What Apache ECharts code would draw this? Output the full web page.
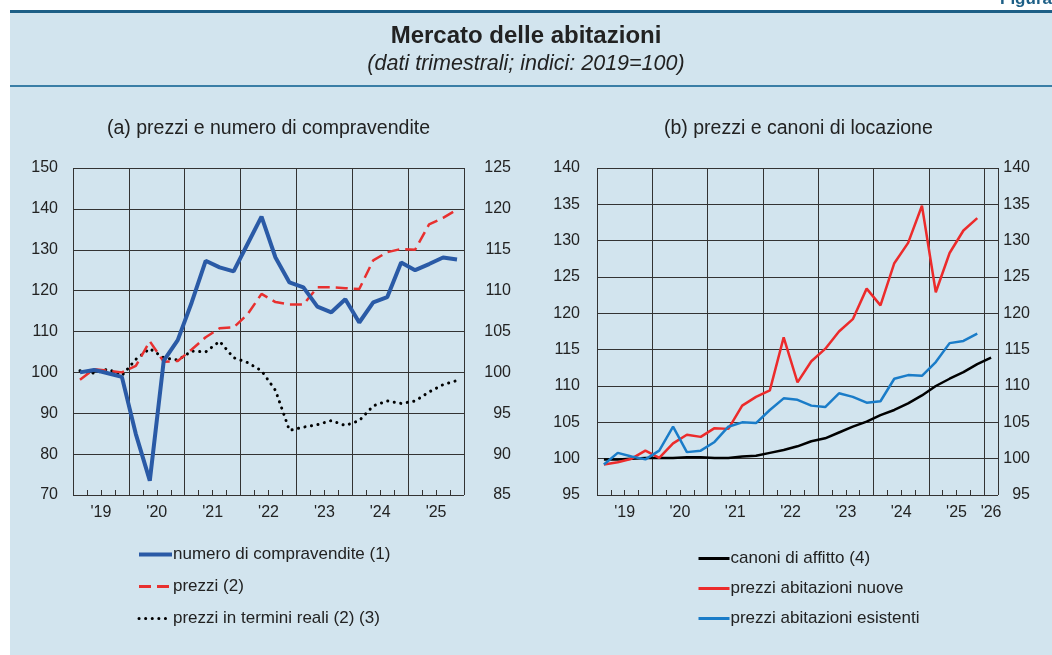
<!DOCTYPE html>
<html>
<head>
<meta charset="utf-8">
<script src="https://cdn.jsdelivr.net/npm/echarts@6/dist/echarts.min.js"></script>
<style>
  html, body { margin: 0; padding: 0; background: #fff; }
  #chart { width: 1052px; height: 655px; }
</style>
</head>
<body>
<div id="chart"></div>
<script>
// etichette anni (centrate sull'anno)
const yearLabelsA = ["'19", "'20", "'21", "'22", "'23", "'24", "'25"];
const yearLabelsB = ["'19", "'20", "'21", "'22", "'23", "'24", "'25", "'26"];

// (a) dati trimestrali 2019T1-2025T4
const compravendite = [100.0, 100.6, 99.8, 98.9, 84.9, 73.5, 102.9, 107.9, 117.1, 127.3, 125.7, 124.7, 131.4, 138.1,
  128.1, 122.0, 120.8, 116.1, 114.7, 117.9, 112.2, 117.1, 118.4, 126.9, 125.0, 126.5, 128.1, 127.6];
const prezzi = [99.1, 100.4, 100.2, 100.0, 100.8, 103.8, 101.3, 101.4, 102.8, 104.3, 105.4, 105.5, 107.1, 109.6,
  108.6, 108.3, 108.3, 110.4, 110.4, 110.3, 110.2, 113.7, 114.7, 115.1, 115.0, 118.1, 118.9, 119.9];
const prezziReali = [100.2, 99.9, 100.4, 99.6, 101.6, 102.9, 101.8, 101.5, 102.6, 102.5, 103.8, 101.8, 101.2, 100.2,
  97.8, 92.9, 93.3, 93.6, 94.1, 93.5, 94.1, 95.9, 96.5, 96.2, 96.5, 97.6, 98.5, 99.0];

// (b) dati trimestrali 2019T1-2026T1
const canoni = [99.9, 99.9, 100.0, 100.1, 100.1, 100.1, 100.2, 100.2, 100.1, 100.1, 100.3, 100.4, 100.8, 101.2,
  101.7, 102.4, 102.8, 103.6, 104.4, 105.1, 106.0, 106.7, 107.6, 108.7, 110.0, 111.0, 111.9, 113.0, 113.9];
const nuove = [99.2, 99.5, 100.0, 101.1, 100.1, 102.1, 103.3, 103.0, 104.2, 104.1, 107.3, 108.5, 109.4, 116.7,
  110.5, 113.4, 115.1, 117.5, 119.2, 123.4, 121.1, 126.9, 129.7, 134.8, 122.9, 128.3, 131.4, 133.1];
const esistenti = [99.2, 100.8, 100.3, 99.9, 101.1, 104.4, 100.9, 101.1, 102.3, 104.4, 105.0, 104.9, 106.7, 108.3,
  108.1, 107.3, 107.1, 109.0, 108.5, 107.7, 107.9, 111.0, 111.5, 111.4, 113.3, 115.9, 116.2, 117.2];

const font = "'Liberation Sans', Arial, sans-serif";
const ink = "#222";
const gridLine = { show: true, lineStyle: { color: "#333", width: 1 } };

// punti al centro del trimestre
const toPts = (arr) => arr.map((v, i) => [i + 0.5, v]);

// etichetta anno al centro di ogni anno; l'ultimo '26 al centro del trimestre
function labelFmt(labels, nQuarters) {
  return (v) => {
    if (v % 4 === 2 && (v - 2) / 4 < labels.length && v + 2 <= nQuarters) return labels[(v - 2) / 4];
    if (v === nQuarters - 0.5 && labels.length * 4 > nQuarters) return labels[labels.length - 1];
    return "";
  };
}

function xAxes(gridIndex, n, labels) {
  return [
    { // dati + tacche trimestrali
      type: "value", gridIndex: gridIndex, min: 0, max: n, interval: 1,
      axisLine: { show: false },
      axisTick: { show: true, inside: true, length: 5, lineStyle: { color: "#333" } },
      axisLabel: { show: false }, splitLine: { show: false }
    },
    { // griglia annuale
      type: "value", gridIndex: gridIndex, min: 0, max: n, interval: 4,
      axisLine: { show: false }, axisTick: { show: false }, axisLabel: { show: false },
      splitLine: gridLine
    },
    { // etichette anni
      type: "value", gridIndex: gridIndex, min: 0, max: n, interval: 0.5, position: "bottom",
      axisLine: { show: false }, axisTick: { show: false }, splitLine: { show: false },
      axisLabel: { show: true, margin: 10, color: ink, fontSize: 16, fontFamily: font,
        showMinLabel: true, showMaxLabel: true, hideOverlap: false, formatter: labelFmt(labels, n) }
    }
  ];
}

const chart = echarts.init(document.getElementById("chart"));

const legendText = { color: ink, fontSize: 17, fontFamily: font, padding: [0, 0, 0, -4] };

const option = {
  backgroundColor: "#fff",
  animation: false,
  graphic: [
    { type: "rect", shape: { x: 10, y: 12, width: 1042, height: 643 }, style: { fill: "#d2e4ee" } },
    { type: "rect", shape: { x: 10, y: 10, width: 1042, height: 3 }, style: { fill: "#1d5f86" } },
    { type: "rect", shape: { x: 10, y: 85, width: 1042, height: 2 }, style: { fill: "#3a7ea6" } },
    { type: "text", left: 1000, top: -9, style: { text: "Figura 3", font: "bold 17px " + font, fill: "#1d5f86" } },
    { type: "text", left: "center", top: 24, style: { text: "Mercato delle abitazioni", font: "bold 24px " + font, fill: ink, align: "center" } },
    { type: "text", left: "center", top: 53, style: { text: "(dati trimestrali; indici: 2019=100)", font: "italic 21.5px " + font, fill: ink, align: "center" } },
    { type: "text", left: 107, top: 119, style: { text: "(a) prezzi e numero di compravendite", font: "19.5px " + font, fill: ink } },
    { type: "text", left: 664, top: 119, style: { text: "(b) prezzi e canoni di locazione", font: "19.5px " + font, fill: ink } }
  ],
  grid: [
    { left: 73, top: 168, width: 391, height: 327, show: true, backgroundColor: "#fff", borderColor: "#111", borderWidth: 1 },
    { left: 597, top: 168, width: 401, height: 327, show: true, backgroundColor: "#fff", borderColor: "#111", borderWidth: 1 }
  ],
  legend: [
    {
      orient: "vertical", left: 132, top: 541, itemGap: 15, itemWidth: 33, itemHeight: 14,
      itemStyle: { opacity: 0 }, textStyle: legendText,
      data: [
        { name: "numero di compravendite (1)", lineStyle: { width: 4 } },
        { name: "prezzi (2)", lineStyle: { width: 3 } },
        { name: "prezzi in termini reali (2) (3)", lineStyle: { width: 3 } }
      ]
    },
    {
      orient: "vertical", left: 692, top: 545, itemGap: 13, itemWidth: 31, itemHeight: 14,
      itemStyle: { opacity: 0 }, textStyle: legendText,
      data: [
        { name: "canoni di affitto (4)", lineStyle: { width: 3 } },
        { name: "prezzi abitazioni nuove", lineStyle: { width: 3 } },
        { name: "prezzi abitazioni esistenti", lineStyle: { width: 3 } }
      ]
    }
  ],
  xAxis: [...xAxes(0, 28, yearLabelsA), ...xAxes(1, 29, yearLabelsB)],
  yAxis: [
    { type: "value", gridIndex: 0, position: "left", min: 70, max: 150, interval: 10,
      axisLine: { show: false }, axisTick: { show: false }, splitLine: gridLine,
      axisLabel: { color: ink, fontSize: 16, fontFamily: font, margin: 15 } },
    { type: "value", gridIndex: 0, position: "right", min: 85, max: 125, interval: 5,
      axisLine: { show: false }, axisTick: { show: false }, splitLine: { show: false },
      axisLabel: { color: ink, fontSize: 16, fontFamily: font, margin: 47, align: "right" } },
    { type: "value", gridIndex: 1, position: "left", min: 95, max: 140, interval: 5,
      axisLine: { show: false }, axisTick: { show: false }, splitLine: gridLine,
      axisLabel: { color: ink, fontSize: 16, fontFamily: font, margin: 17 } },
    { type: "value", gridIndex: 1, position: "right", min: 95, max: 140, interval: 5,
      axisLine: { show: false }, axisTick: { show: false }, splitLine: { show: false },
      axisLabel: { color: ink, fontSize: 16, fontFamily: font, margin: 32, align: "right" } }
  ],
  series: [
    {
      name: "numero di compravendite (1)", type: "line", xAxisIndex: 0, yAxisIndex: 0,
      data: toPts(compravendite), symbol: "none", z: 4,
      lineStyle: { color: "#2a5aa6", width: 4 }, itemStyle: { color: "#2a5aa6" }
    },
    {
      name: "prezzi (2)", type: "line", xAxisIndex: 0, yAxisIndex: 1,
      data: toPts(prezzi), symbol: "none", z: 3,
      lineStyle: { color: "#e8302f", width: 2.5, type: [12, 6] }, itemStyle: { color: "#e8302f" }
    },
    {
      name: "prezzi in termini reali (2) (3)", type: "line", xAxisIndex: 0, yAxisIndex: 1,
      data: toPts(prezziReali), symbol: "none", z: 2,
      lineStyle: { color: "#000", width: 3, type: [0.1, 6.5], cap: "round" }, itemStyle: { color: "#000" }
    },
    {
      name: "canoni di affitto (4)", type: "line", xAxisIndex: 3, yAxisIndex: 2,
      data: toPts(canoni), symbol: "none", z: 2,
      lineStyle: { color: "#000", width: 2.5 }, itemStyle: { color: "#000" }
    },
    {
      name: "prezzi abitazioni nuove", type: "line", xAxisIndex: 3, yAxisIndex: 2,
      data: toPts(nuove), symbol: "none", z: 3,
      lineStyle: { color: "#ec2b2b", width: 2.5 }, itemStyle: { color: "#ec2b2b" }
    },
    {
      name: "prezzi abitazioni esistenti", type: "line", xAxisIndex: 3, yAxisIndex: 2,
      data: toPts(esistenti), symbol: "none", z: 4,
      lineStyle: { color: "#1a7cc8", width: 2.5 }, itemStyle: { color: "#1a7cc8" }
    }
  ]
};

chart.setOption(option);
</script>
</body>
</html>
